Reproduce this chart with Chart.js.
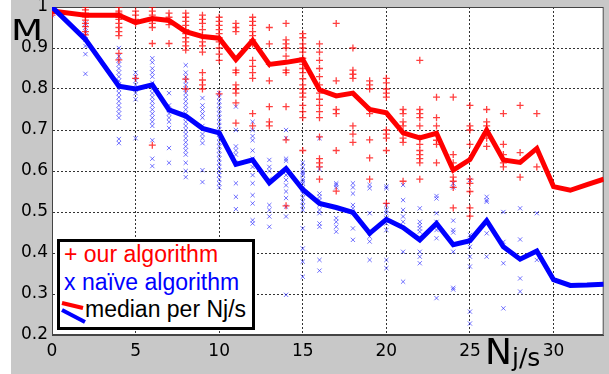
<!DOCTYPE html>
<html>
<head>
<meta charset="utf-8">
<script src="https://cdn.jsdelivr.net/npm/chart.js@4"></script>
<style>
  html, body { margin: 0; padding: 0; background: #fff; }
  #wrap { position: relative; width: 609px; height: 374px; }
  #chart { position: absolute; left: 0; top: 0; }
  .lbl { position: absolute; font-family: "DejaVu Sans", sans-serif; color: #000; line-height: 1; white-space: nowrap; }
  #legend { position: absolute; left: 57px; top: 239px; width: 198px; height: 91px; box-sizing: border-box;
            border: 3px solid #000; background: #fff; font-family: "Liberation Sans", Arial, sans-serif; font-size: 23px; }
  #legend .row { position: absolute; line-height: 1; white-space: nowrap; }
  #legend svg { position: absolute; left: 0; top: 0; }
</style>
</head>
<body>
<div id="wrap">
  <canvas id="chart" width="609" height="374"></canvas>
  <div class="lbl" style="left:11px; top:17px; font-size:27.5px; transform:scaleX(1.35); transform-origin:left top;">M</div>
  <div class="lbl" style="left:485px; top:334px; font-size:36px;">N<span style="font-size:25px; position:relative; top:2px;">j/s</span></div>
  <div id="legend">
    <div class="row" style="left:4px; top:1px; color:#ff0000;">+ our algorithm</div>
    <div class="row" style="left:4px; top:29px; color:#0000ff;">x naïve algorithm</div>
    <svg width="30" height="85">
      <line x1="2" y1="61" x2="23" y2="66" stroke="#ff0000" stroke-width="4" />
      <line x1="2" y1="68" x2="25" y2="80" stroke="#0000ff" stroke-width="4" />
    </svg>
    <div class="row" style="left:25px; top:56px; color:#000;">median per Nj/s</div>
  </div>
</div>
<script>
// median per Nj/s
const medianX = [0, 2, 4, 5, 6, 7, 8, 9, 10, 11, 12, 13, 14, 15, 16, 17, 18, 19, 20, 21, 22, 23, 24, 25, 26, 27, 28, 29, 30, 31, 32, 33];
const ourMedian = [0.99, 0.98, 0.98, 0.962, 0.972, 0.967, 0.94, 0.928, 0.924, 0.872, 0.918, 0.86, 0.865, 0.872, 0.798, 0.783, 0.79, 0.75, 0.742, 0.693, 0.681, 0.692, 0.602, 0.628, 0.70, 0.627, 0.621, 0.655, 0.562, 0.553, 0.567, 0.58];
const naiveMedian = [1.0, 0.921, 0.807, 0.80, 0.81, 0.749, 0.734, 0.704, 0.693, 0.616, 0.627, 0.571, 0.606, 0.555, 0.521, 0.511, 0.499, 0.448, 0.482, 0.462, 0.432, 0.472, 0.42, 0.43, 0.479, 0.415, 0.385, 0.405, 0.335, 0.321, 0.322, 0.324];

// individual runs, one list per Nj/s column
const runCols = [0, 2, 4, 5, 6, 7, 8, 9, 10, 11, 12, 13, 14, 15, 16, 17, 18, 19, 20, 21, 22, 23, 24, 25, 26, 27, 28, 29];
const ourRuns = [
  [1.0, 0.995, 0.99, 0.985, 0.98],
  [1.0, 0.993, 0.985, 0.976, 0.968, 0.96, 0.952, 0.94, 0.932],
  [1.0, 0.99, 0.985, 0.98, 0.975, 0.97, 0.96, 0.95, 0.94, 0.93, 0.887, 0.871],
  [0.99, 0.98, 0.97, 0.96, 0.826],
  [1.0, 0.99, 0.98, 0.97, 0.96, 0.95, 0.911, 0.663],
  [0.985, 0.975, 0.965, 0.957, 0.911],
  [0.985, 0.975, 0.965, 0.955, 0.945, 0.935, 0.925, 0.915, 0.905, 0.895, 0.824, 0.80],
  [0.98, 0.97, 0.96, 0.945, 0.93, 0.915, 0.905, 0.89, 0.84, 0.822, 0.81, 0.80],
  [0.975, 0.965, 0.955, 0.945, 0.935, 0.925, 0.915, 0.90, 0.885, 0.87, 0.788],
  [0.96, 0.95, 0.94, 0.846, 0.84, 0.81, 0.80, 0.79, 0.766, 0.717],
  [0.975, 0.965, 0.955, 0.94, 0.93, 0.92, 0.91, 0.87, 0.855, 0.84, 0.826, 0.74, 0.71],
  [0.95, 0.91, 0.86, 0.82, 0.757, 0.72, 0.71],
  [0.96, 0.92, 0.91, 0.90, 0.88, 0.846, 0.84, 0.757, 0.676, 0.515],
  [0.935, 0.925, 0.91, 0.90, 0.89, 0.875, 0.86, 0.85, 0.84, 0.825, 0.81, 0.80, 0.79, 0.78, 0.76, 0.745, 0.73, 0.65],
  [0.91, 0.89, 0.87, 0.85, 0.83, 0.81, 0.79, 0.775, 0.76, 0.745, 0.73, 0.683, 0.63, 0.62, 0.61, 0.58],
  [0.96, 0.82, 0.75, 0.74, 0.65, 0.551],
  [0.90, 0.846, 0.836, 0.826, 0.71, 0.69, 0.67],
  [0.82, 0.81, 0.80, 0.75, 0.74, 0.676, 0.632, 0.58],
  [0.826, 0.815, 0.80, 0.79, 0.78, 0.70, 0.69, 0.68, 0.65, 0.521],
  [0.75, 0.74, 0.72, 0.71, 0.68, 0.67, 0.575],
  [0.87, 0.75, 0.74, 0.73, 0.71, 0.68, 0.665, 0.65, 0.64, 0.63, 0.62, 0.58],
  [0.78, 0.73, 0.71, 0.675, 0.665, 0.62],
  [0.78, 0.64, 0.62, 0.585, 0.575, 0.56, 0.51],
  [0.76, 0.71, 0.70, 0.665, 0.58, 0.57, 0.55, 0.51, 0.49],
  [0.75, 0.72, 0.71, 0.68, 0.66],
  [0.74, 0.665, 0.64, 0.62, 0.61],
  [0.76, 0.645, 0.585],
  [0.74, 0.61]
];
const naiveRuns = [
  [1.0, 0.99, 0.98],
  [0.96, 0.95, 0.94, 0.93, 0.92, 0.905, 0.885, 0.837],
  [0.90, 0.88, 0.87, 0.86, 0.85, 0.84, 0.83, 0.82, 0.81, 0.80, 0.79, 0.78, 0.77, 0.76, 0.75, 0.74, 0.73, 0.678, 0.668],
  [0.84, 0.83, 0.82, 0.81, 0.80, 0.79, 0.775, 0.68],
  [0.875, 0.865, 0.85, 0.84, 0.83, 0.815, 0.80, 0.79, 0.78, 0.77, 0.76, 0.75, 0.74, 0.73, 0.72, 0.71, 0.675, 0.63, 0.612],
  [0.79, 0.76, 0.75, 0.74, 0.73, 0.72, 0.705, 0.656, 0.62],
  [0.858, 0.84, 0.83, 0.82, 0.81, 0.80, 0.79, 0.78, 0.77, 0.76, 0.75, 0.74, 0.73, 0.72, 0.71, 0.70, 0.69, 0.68, 0.67, 0.66, 0.65, 0.64, 0.62, 0.60, 0.585],
  [0.778, 0.76, 0.75, 0.74, 0.73, 0.71, 0.69, 0.68, 0.668, 0.602, 0.573],
  [0.79, 0.78, 0.77, 0.76, 0.75, 0.74, 0.73, 0.72, 0.71, 0.70, 0.69, 0.68, 0.67, 0.66, 0.65, 0.64, 0.63, 0.62, 0.61, 0.60, 0.59, 0.58, 0.57, 0.56],
  [0.757, 0.70, 0.66, 0.65, 0.64, 0.62, 0.57, 0.537, 0.507],
  [0.72, 0.70, 0.685, 0.675, 0.65, 0.63, 0.61, 0.59, 0.57, 0.541, 0.521, 0.48, 0.472],
  [0.627, 0.61, 0.60, 0.58, 0.517, 0.505, 0.489, 0.464],
  [0.70, 0.68, 0.63, 0.625, 0.59, 0.578, 0.565, 0.55, 0.534, 0.513, 0.489, 0.298],
  [0.62, 0.61, 0.60, 0.595, 0.59, 0.58, 0.575, 0.57, 0.56, 0.555, 0.545, 0.535, 0.525, 0.515, 0.505, 0.46, 0.411, 0.379, 0.342],
  [0.68, 0.605, 0.545, 0.537, 0.529, 0.517, 0.505, 0.497, 0.472, 0.464, 0.383, 0.357],
  [0.57, 0.56, 0.566, 0.485, 0.476, 0.464, 0.452],
  [0.56, 0.57, 0.545, 0.517, 0.509, 0.497, 0.46, 0.432],
  [0.558, 0.566, 0.497, 0.44, 0.428, 0.383],
  [0.558, 0.562, 0.517, 0.505, 0.497, 0.485, 0.472, 0.456, 0.383, 0.363],
  [0.566, 0.529, 0.505, 0.489, 0.476, 0.403, 0.33],
  [0.509, 0.476, 0.468, 0.46, 0.452, 0.403, 0.391, 0.375],
  [0.539, 0.533, 0.497, 0.476, 0.468, 0.456, 0.436, 0.29],
  [0.57, 0.56, 0.479, 0.456, 0.45, 0.403, 0.315, 0.311],
  [0.578, 0.444, 0.432, 0.415, 0.391, 0.367, 0.257, 0.228],
  [0.537, 0.529, 0.525, 0.448, 0.391],
  [0.50, 0.427, 0.375, 0.265],
  [0.509, 0.433, 0.338, 0.306],
  [0.497, 0.383]
];

// axis ticks
const xTicks = [0, 5, 10, 15, 20, 25, 30];
const xTickLabels = ['0', '5', '10', '15', '20', '25', '30'];
const yTicks = [0.2, 0.3, 0.4, 0.5, 0.6, 0.7, 0.8, 0.9, 1.0];
const yTickLabels = ['0.2', '0.3', '0.4', '0.5', '0.6', '0.7', '0.8', '0.9', '1'];

const toPoints = (cols, runs) => cols.flatMap((x, i) => runs[i].map(y => ({ x, y })));
const toLine = (xs, ys) => xs.map((x, i) => ({ x, y: ys[i] }));

const plotBg = {
  id: 'plotBg',
  beforeDraw(chart) {
    const { ctx, chartArea: a } = chart;
    ctx.save();
    ctx.fillStyle = '#c8c8c8';
    ctx.fillRect(11, 0, chart.width - 11, chart.height);
    ctx.fillStyle = '#ffffff';
    ctx.fillRect(a.left, a.top, a.right - a.left, a.bottom - a.top);
    ctx.restore();
  },
  beforeDatasetsDraw(chart) {
    const { ctx, chartArea: a } = chart;
    ctx.save();
    ctx.strokeStyle = '#444';
    ctx.lineWidth = 1;
    ctx.strokeRect(a.left + 0.5, a.top + 0.5, a.right - a.left - 1, a.bottom - a.top - 1);
    ctx.restore();
  }
};

const tickFont = { family: 'DejaVu Sans', size: 17 };

new Chart(document.getElementById('chart'), {
  type: 'scatter',
  data: {
    datasets: [
      {
        label: 'median our',
        type: 'line',
        data: toLine(medianX, ourMedian),
        borderColor: '#ff0000',
        borderWidth: 5,
        pointRadius: 0,
        fill: false,
        tension: 0,
        order: 1
      },
      {
        label: 'median naive',
        type: 'line',
        data: toLine(medianX, naiveMedian),
        borderColor: '#0000ff',
        borderWidth: 5,
        pointRadius: 0,
        fill: false,
        tension: 0,
        order: 0
      },
      {
        label: 'our algorithm',
        data: toPoints(runCols, ourRuns),
        pointStyle: 'cross',
        pointRadius: 3.5,
        borderColor: 'rgba(255,0,0,0.75)',
        borderWidth: 1.3,
        order: 2
      },
      {
        label: 'naive algorithm',
        data: toPoints(runCols, naiveRuns),
        pointStyle: 'crossRot',
        pointRadius: 3,
        borderColor: 'rgba(40,40,255,0.65)',
        borderWidth: 1,
        order: 3
      }
    ]
  },
  options: {
    responsive: false,
    animation: false,
    layout: { padding: { top: 7, right: 2, left: 0, bottom: 0 } },
    plugins: { legend: { display: false }, tooltip: { enabled: false } },
    scales: {
      x: {
        type: 'linear',
        min: 0,
        max: 33,
        afterBuildTicks: s => { s.ticks = xTicks.map(v => ({ value: v })); },
        afterFit: s => { s.height = 39; s.paddingLeft = 0; s.paddingRight = 0; },
        ticks: { font: tickFont, color: '#000', padding: 6, maxRotation: 0, autoSkip: false,
                 callback: (v, i) => xTickLabels[i] },
        grid: { color: '#333', lineWidth: 1, drawTicks: false },
        border: { color: '#444', dash: [2, 2] }
      },
      y: {
        type: 'linear',
        min: 0.2,
        max: 1.0,
        afterBuildTicks: s => { s.ticks = yTicks.map(v => ({ value: v })); },
        afterFit: s => { s.width = 52; s.paddingTop = 0; s.paddingBottom = 0; },
        ticks: { font: tickFont, color: '#000', padding: 4, autoSkip: false,
                 callback: (v, i) => yTickLabels[i] },
        grid: { color: '#333', lineWidth: 1, drawTicks: false },
        border: { color: '#444', dash: [2, 2] }
      }
    }
  },
  plugins: [plotBg]
});
</script>
</body>
</html>
